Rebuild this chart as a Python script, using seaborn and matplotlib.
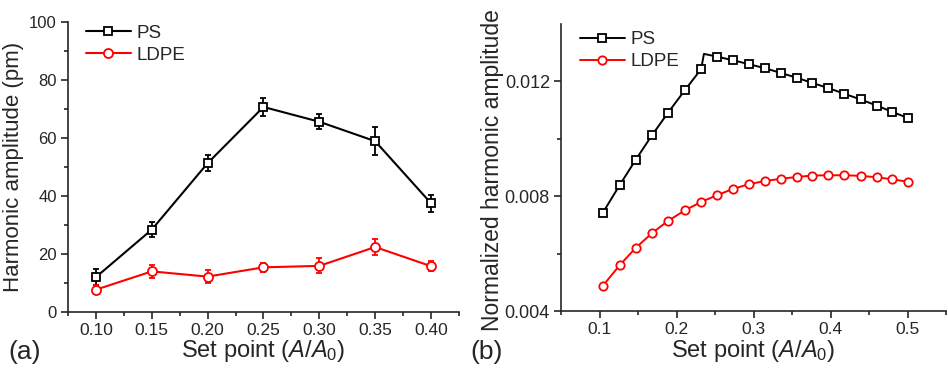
import numpy as np
import pandas as pd
import matplotlib
matplotlib.use('Agg')
import matplotlib.pyplot as plt
import seaborn as sns
from matplotlib.ticker import MultipleLocator, FormatStrFormatter, FixedLocator

# (a) harmonic amplitude vs set point, with error bars
set_point_a = [0.10, 0.15, 0.20, 0.25, 0.30, 0.35, 0.40]
ps_amp = [12.0, 28.4, 51.3, 70.7, 65.6, 58.9, 37.5]
ps_err = [2.7, 2.7, 2.8, 3.0, 2.6, 4.9, 3.0]
ldpe_amp = [7.7, 14.0, 12.2, 15.4, 15.9, 22.4, 15.8]
ldpe_err = [1.5, 2.2, 2.2, 1.5, 2.6, 2.6, 1.8]

# (b) normalized harmonic amplitude vs set point
set_point_b = [0.104, 0.126, 0.147, 0.168, 0.189, 0.211, 0.232, 0.253, 0.273, 0.294,
               0.315, 0.336, 0.356, 0.376, 0.397, 0.418, 0.439, 0.460, 0.480, 0.501]
ps_norm = [0.00741, 0.00838, 0.00927, 0.01012, 0.01091, 0.01170, 0.01243, 0.01286, 0.01274, 0.01260,
           0.01246, 0.01229, 0.01213, 0.01195, 0.01177, 0.01157, 0.01137, 0.01116, 0.01094, 0.01072]
ldpe_norm = [0.00487, 0.00559, 0.00620, 0.00671, 0.00714, 0.00751, 0.00780, 0.00804, 0.00825, 0.00842,
             0.00853, 0.00861, 0.00867, 0.00872, 0.00873, 0.00873, 0.00871, 0.00866, 0.00859, 0.00850]
# unmarked vertices of the PS curve (line start and kink near the peak)
ps_extra_x = [0.100, 0.2356]
ps_extra_y = [0.00730, 0.01296]

sns.set_style('ticks')
plt.rcParams['font.family'] = ['Liberation Sans', 'DejaVu Sans']
plt.rcParams['mathtext.fontset'] = 'custom'
plt.rcParams['mathtext.rm'] = 'Liberation Sans'
plt.rcParams['mathtext.it'] = 'Liberation Sans:italic'
plt.rcParams['axes.linewidth'] = 1.2

narrow = ['Liberation Sans Narrow', 'Liberation Sans']

fig = plt.figure(figsize=(9.48, 3.74), dpi=100)
ax1 = fig.add_axes([0.0717, 0.1658, 0.4124, 0.7754])
ax2 = fig.add_axes([0.5918, 0.1684, 0.4061, 0.7674])

# ---- panel (a)
ax1.errorbar(set_point_a, ps_amp, yerr=ps_err, fmt='none', ecolor='black',
             elinewidth=1.3, capsize=2.5, capthick=1.3, zorder=2)
ax1.errorbar(set_point_a, ldpe_amp, yerr=ldpe_err, fmt='none', ecolor='red',
             elinewidth=1.3, capsize=2.5, capthick=1.3, zorder=2)
sns.lineplot(x=set_point_a, y=ps_amp, ax=ax1, color='black', lw=1.5, marker='s',
             markersize=6, markerfacecolor='white', markeredgecolor='black',
             markeredgewidth=1.3, label='PS', zorder=3)
sns.lineplot(x=set_point_a, y=ldpe_amp, ax=ax1, color='red', lw=1.5, marker='o',
             markersize=6.5, markerfacecolor='white', markeredgecolor='red',
             markeredgewidth=1.3, label='LDPE', zorder=3)

ax1.set_xlim(0.075, 0.425)
ax1.set_ylim(0, 100)
ax1.xaxis.set_major_locator(FixedLocator(set_point_a))
ax1.xaxis.set_minor_locator(MultipleLocator(0.025))
ax1.xaxis.set_major_formatter(FormatStrFormatter('%.2f'))
ax1.yaxis.set_major_locator(MultipleLocator(20))
ax1.yaxis.set_minor_locator(FixedLocator([10, 30, 50, 70, 90]))
ax1.set_ylabel('Harmonic amplitude (pm)', fontsize=16)
ax1.yaxis.set_label_coords(-0.112, 0.5)
ax1.set_xlabel(r'Set point ($A$/$A_{\rm 0}$)', fontsize=17)
ax1.xaxis.set_label_coords(0.5, -0.09)
for lab in ax1.get_xticklabels():
    lab.set_family(narrow)
    lab.set_fontsize(12.5)
ax1.tick_params(axis='y', labelsize=12)

# ---- panel (b)
ps_df = pd.DataFrame({'x': set_point_b + ps_extra_x, 'y': ps_norm + ps_extra_y,
                      'marked': [True] * len(set_point_b) + [False] * len(ps_extra_x)})
ps_df = ps_df.sort_values('x').reset_index(drop=True)
sns.lineplot(data=ps_df, x='x', y='y', ax=ax2, sort=False, color='black', lw=1.4,
             marker='s', markevery=list(ps_df['marked']), markersize=5.5,
             markerfacecolor='white', markeredgecolor='black', markeredgewidth=1.3,
             label='PS')
sns.lineplot(x=set_point_b, y=ldpe_norm, ax=ax2, color='red', lw=1.4, marker='o',
             markersize=6, markerfacecolor='white', markeredgecolor='red',
             markeredgewidth=1.3, label='LDPE')

ax2.set_xlim(0.05, 0.55)
ax2.set_ylim(0.004, 0.014)
ax2.xaxis.set_major_locator(FixedLocator([0.1, 0.2, 0.3, 0.4, 0.5]))
ax2.xaxis.set_minor_locator(FixedLocator([0.05, 0.15, 0.25, 0.35, 0.45, 0.55]))
ax2.xaxis.set_major_formatter(FormatStrFormatter('%.1f'))
ax2.yaxis.set_major_locator(FixedLocator([0.004, 0.008, 0.012]))
ax2.yaxis.set_minor_locator(FixedLocator([0.006, 0.010]))
ax2.yaxis.set_major_formatter(FormatStrFormatter('%.3f'))
ax2.set_ylabel('Normalized harmonic amplitude', fontsize=16.5)
ax2.yaxis.set_label_coords(-0.148, 0.49)
ax2.set_xlabel(r'Set point ($A$/$A_{\rm 0}$)', fontsize=17)
ax2.xaxis.set_label_coords(0.5, -0.094)
for lab in ax2.get_xticklabels():
    lab.set_family(narrow)
    lab.set_fontsize(12.5)
ax2.tick_params(axis='y', labelsize=13)

for ax in (ax1, ax2):
    sns.despine(ax=ax)
    ax.tick_params(which='major', direction='out', length=5, width=1.2, pad=3)
    ax.tick_params(which='minor', direction='out', length=3, width=1.2)

ax1.legend(loc='upper left', bbox_to_anchor=(0.045, 0.99), frameon=False, fontsize=13.5,
           handlelength=2.4, handletextpad=0.3, labelspacing=0.25, borderaxespad=0, borderpad=0)
ax2.legend(loc='upper left', bbox_to_anchor=(0.048, 0.975), frameon=False, fontsize=13.5,
           handlelength=2.4, handletextpad=0.3, labelspacing=0.25, borderaxespad=0, borderpad=0)

fig.text(25 / 948, 1 - 352 / 374, '(a)', fontsize=19, ha='center', va='center')
fig.text(487 / 948, 1 - 352 / 374, '(b)', fontsize=19, ha='center', va='center')

fig.savefig('out.png', dpi=100)
